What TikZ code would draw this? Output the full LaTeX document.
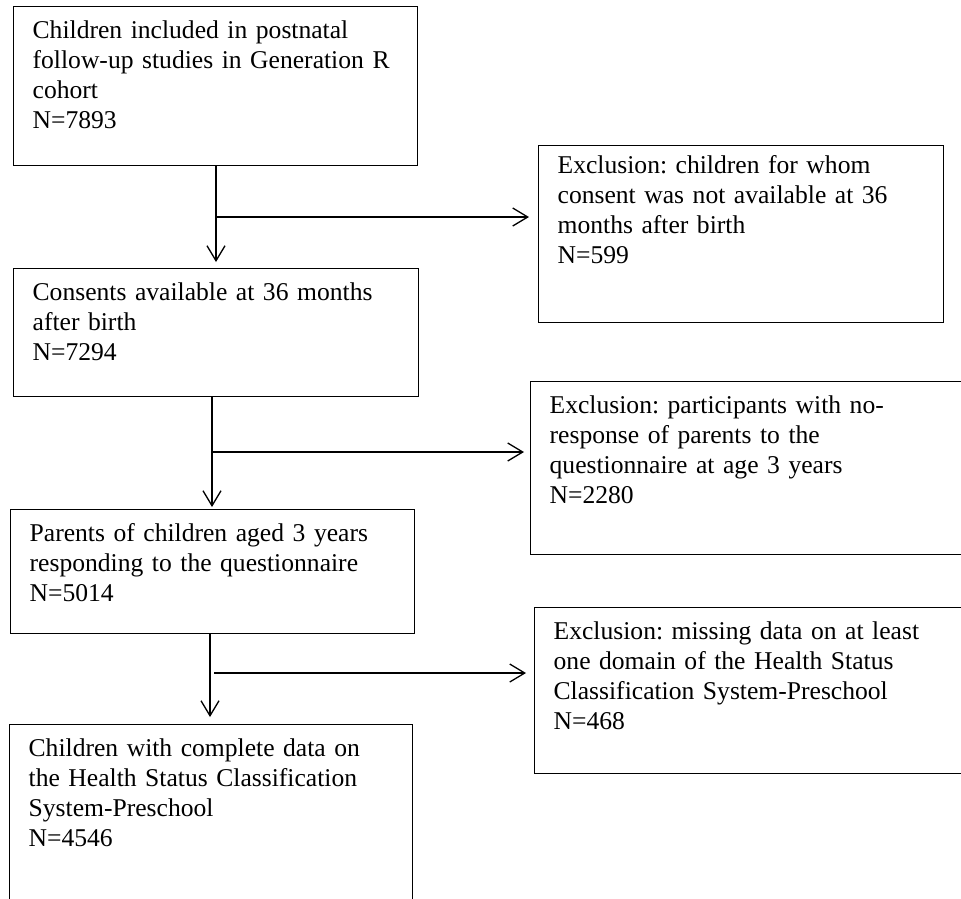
\documentclass[tikz,border=0pt]{standalone}
\usepackage{fontspec}
\setmainfont{Liberation Serif}
\usetikzlibrary{arrows.meta}

\tikzset{
  flowbox/.style={draw, line width=1.3pt, rectangle, anchor=north west, align=left,
    inner xsep=19pt, inner ysep=0pt, text height=32pt,
    font=\fontsize{25.6}{29.8}\selectfont\frenchspacing},
  flowarrow/.style={line width=1.3pt, -{Straight Barb[length=15pt,width=18pt,line width=1.3pt]}}
}

\begin{document}
\begin{tikzpicture}[x=1pt, y=-1pt]
\useasboundingbox (0,0) rectangle (961,898);
\clip (0,0) rectangle (961,898);

\node[flowbox, text width=366pt, text depth=127pt] (b1) at (13,6)
  {Children included in postnatal\\follow-up studies in Generation R\\cohort\\N=7893};
\node[flowbox, text width=367pt, text height=28pt, text depth=149pt] (e1) at (538,145)
  {Exclusion: children for whom\\consent was not available at 36\\months after birth\\N=599};
\node[flowbox, text width=367pt, text depth=96pt] (b2) at (13,268)
  {Consents available at 36 months\\after birth\\N=7294};
\node[flowbox, text width=462pt, text depth=141pt] (e2) at (530,381)
  {Exclusion: participants with no-\\response of parents to the\\questionnaire at age 3 years\\N=2280};
\node[flowbox, text width=366pt, text depth=92pt] (b3) at (10,509)
  {Parents of children aged 3 years\\responding to the questionnaire\\N=5014};
\node[flowbox, text width=462pt, text depth=134pt] (e3) at (534,607)
  {Exclusion: missing data on at least\\one domain of the Health Status\\Classification System-Preschool\\N=468};
\node[flowbox, text width=365pt, text depth=218pt] (b4) at (9,724)
  {Children with complete data on\\the Health Status Classification\\System-Preschool\\N=4546};

\coordinate (j1) at (216,217);
\coordinate (j2) at (212,452);
\coordinate (j3) at (214,673);

\draw[flowarrow, shorten >=6pt] (b1.south -| j1) -- (b2.north -| j1);
\draw[flowarrow, shorten >=9pt] (j1) -- (j1 -| e1.west);
\draw[flowarrow, shorten >=2pt] (b2.south -| j2) -- (b3.north -| j2);
\draw[flowarrow, shorten >=6pt] (j2) -- (j2 -| e2.west);
\draw[flowarrow, shorten >=7pt] ([xshift=-4pt]b3.south -| j3) -- ([xshift=-4pt]b4.north -| j3);
\draw[flowarrow, shorten >=8pt] (j3) -- (j3 -| e3.west);

\end{tikzpicture}
\end{document}
